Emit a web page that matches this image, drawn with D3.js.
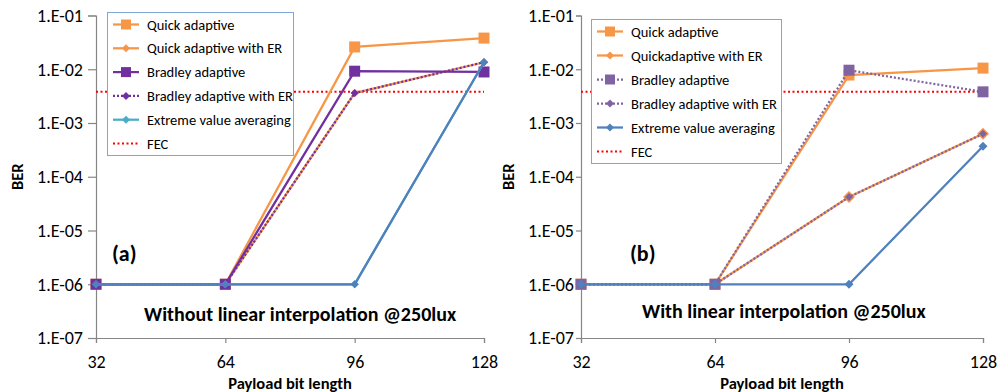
<!DOCTYPE html>
<html>
  <head>
    <meta charset="utf-8">
    <title>BER vs payload bit length</title>
    <script src="https://cdn.jsdelivr.net/npm/d3@7"></script>
    <style>
      body { margin: 0; background: #fff; }
      svg text { font-family: Carlito, Calibri, Lato, sans-serif; fill: #000; }
    </style>
  </head>
  <body>
    <svg id="chart" width="1000" height="392"></svg>

    <script>
      // data
      const payloadBits = [32, 64, 96, 128];
      const berTicks = [1e-1, 1e-2, 1e-3, 1e-4, 1e-5, 1e-6, 1e-7];
      const berTickLabels = ["1.E-01", "1.E-02", "1.E-03", "1.E-04", "1.E-05", "1.E-06", "1.E-07"];
      const fecLimit = 3.8e-3;

      // (a) without linear interpolation
      const quickA = [1e-6, 1e-6, 0.026, 0.038];
      const quickErA = [1e-6, 1e-6, 3.6e-3, 0.0135];
      const bradleyA = [1e-6, 1e-6, 9.2e-3, 8.9e-3];
      const bradleyErA = [1e-6, 1e-6, 3.6e-3, 0.0135];
      const extremeA = [1e-6, 1e-6, 1e-6, 0.0135];
      const hiddenA = [1e-6, 1e-6, 1e-6, 0.0135];   // blue line not in the legend

      // (b) with linear interpolation
      const quickB = [1e-6, 1e-6, 7.8e-3, 0.0105];
      const quickErB = [1e-6, 1e-6, 4.2e-5, 6.3e-4];
      const bradleyB = [1e-6, 1e-6, 9.6e-3, 3.8e-3];
      const bradleyErB = [1e-6, 1e-6, 4.2e-5, 6.3e-4];
      const extremeB = [1e-6, 1e-6, 1e-6, 3.7e-4];

      const orange = "#F79646", purple = "#7030A0", lilac = "#8064A2",
            blue = "#4F81BD", teal = "#4BACC6", red = "#FF0000";

      const panels = [
        {
          x0: 96, x1: 484, yLabel: 17, tickSize: 8, tickPad: 5,
          legend: { x: 107, y: 12, w: 186, h: 143, step: 23.8 },
          tag: "(a)", tagX: 112, title: "Without linear interpolation @250lux", titleX: 144, titleY: 314,
          xTitle: "Payload bit length",
          series: [
            { name: "Quick adaptive", values: quickA, color: orange, marker: "square", size: 11 },
            { name: "Quick adaptive with ER", values: quickErA, color: orange, marker: "diamond", size: 8 },
            { name: "Bradley adaptive", values: bradleyA, color: purple, marker: "square", size: 11 },
            { name: "Bradley adaptive with ER", values: bradleyErA, color: purple, marker: "diamond", size: 8, dash: "2,2" },
            { name: "Extreme value averaging", values: extremeA, color: teal, marker: "diamond", size: 8 },
            { name: null, values: hiddenA, color: blue, marker: "diamond", size: 8 }
          ]
        },
        {
          x0: 581, x1: 983, yLabel: 508, tickSize: 5, tickPad: 2,
          legend: { x: 591, y: 19, w: 190, h: 144, step: 24 },
          tag: "(b)", tagX: 630, title: "With linear interpolation @250lux", titleX: 642, titleY: 311,
          xTitle: "Payload  bit length",
          series: [
            { name: "Quick adaptive", values: quickB, color: orange, marker: "square", size: 11 },
            { name: "Quickadaptive with ER", values: quickErB, color: orange, marker: "diamond", size: 12 },
            { name: "Bradley adaptive", values: bradleyB, color: lilac, marker: "square", size: 11, dash: "2,2" },
            { name: "Bradley adaptive with ER", values: bradleyErB, color: lilac, marker: "diamond", size: 8, dash: "2,2" },
            { name: "Extreme value averaging", values: extremeB, color: blue, marker: "diamond", size: 9 }
          ]
        }
      ];

      const svg = d3.select("#chart");
      const y = d3.scaleLog().domain([1e-7, 1e-1]).range([338, 15.5]);

      function markerPath(type, size) {
        const s = size / 2;
        if (type == "square") return `M${-s},${-s}h${size}v${size}h${-size}Z`;
        return `M0,${-s}L${s},0L0,${s}L${-s},0Z`;
      }

      panels.forEach(function(p) {
        const x = d3.scaleLinear().domain([32, 128]).range([p.x0, p.x1]);
        const g = svg.append("g");

        // axes
        const yAxis = g.append("g")
          .attr("transform", `translate(${p.x0},0)`)
          .call(d3.axisLeft(y).tickValues(berTicks).tickSize(p.tickSize).tickPadding(p.tickPad)
            .tickFormat(function(d, i) { return berTickLabels[i]; }));
        const xAxis = g.append("g")
          .attr("transform", `translate(0,${y(1e-7)})`)
          .call(d3.axisBottom(x).tickValues(payloadBits).tickSize(5).tickPadding(12));
        [yAxis, xAxis].forEach(function(a) {
          a.selectAll("path, line").attr("stroke", "#868686").attr("stroke-width", 1.2);
          a.selectAll("text").style("font-size", "18px");
        });

        // axis titles
        g.append("text")
          .attr("transform", `translate(${p.yLabel},${(y(1e-1) + y(1e-7)) / 2}) rotate(-90)`)
          .attr("text-anchor", "middle").attr("dy", "0.35em")
          .style("font-size", "16.5px").style("font-weight", "bold")
          .text("BER");
        g.append("text")
          .attr("x", (p.x0 + p.x1) / 2).attr("y", 389)
          .attr("text-anchor", "middle")
          .style("font-size", "16.5px").style("font-weight", "bold")
          .text(p.xTitle);

        // FEC limit
        g.append("line")
          .attr("x1", p.x0).attr("x2", p.x1)
          .attr("y1", y(fecLimit)).attr("y2", y(fecLimit))
          .attr("stroke", red).attr("stroke-width", 2).attr("stroke-dasharray", "2,2.5");

        // series
        const line = d3.line()
          .x(function(d, i) { return x(payloadBits[i]); })
          .y(function(d) { return y(d); });
        p.series.forEach(function(s) {
          g.append("path")
            .attr("d", line(s.values))
            .attr("fill", "none")
            .attr("stroke", s.color).attr("stroke-width", 2.25)
            .attr("stroke-dasharray", s.dash || null);
          g.selectAll(null)
            .data(s.values)
            .enter().append("path")
              .attr("transform", function(d, i) { return `translate(${x(payloadBits[i])},${y(d)})`; })
              .attr("d", markerPath(s.marker, s.size))
              .attr("fill", s.color);
        });

        // annotations
        g.append("text")
          .attr("x", p.tagX).attr("y", 253).attr("dy", "0.35em")
          .style("font-size", "22px").style("font-weight", "bold")
          .text(p.tag);
        g.append("text")
          .attr("x", p.titleX).attr("y", p.titleY).attr("dy", "0.35em")
          .style("font-size", "20px").style("font-weight", "bold")
          .text(p.title);

        // legend
        const L = p.legend;
        const legend = g.append("g").attr("transform", `translate(${L.x},${L.y})`);
        legend.append("rect")
          .attr("x", 0.5).attr("y", 0.5).attr("width", L.w).attr("height", L.h)
          .attr("fill", "#fff").attr("stroke", "#7EA6D8").attr("stroke-width", 1);
        const entries = p.series.filter(function(s) { return s.name; })
          .concat([{ name: "FEC", color: red, dash: "2,2.5", marker: null }]);
        entries.forEach(function(s, i) {
          const row = legend.append("g")
            .attr("transform", `translate(0,${12.5 + i * L.step})`);
          row.append("line")
            .attr("x1", 6).attr("x2", 32)
            .attr("stroke", s.color).attr("stroke-width", s.marker ? 2.25 : 2)
            .attr("stroke-dasharray", s.dash || null);
          if (s.marker) {
            row.append("path")
              .attr("transform", "translate(19,0)")
              .attr("d", markerPath(s.marker, s.marker == "square" ? 10 : 8))
              .attr("fill", s.color);
          }
          row.append("text")
            .attr("x", 40).attr("dy", "0.35em")
            .style("font-size", "14.5px")
            .text(s.name);
        });
      });
    </script>
  </body>
</html>
